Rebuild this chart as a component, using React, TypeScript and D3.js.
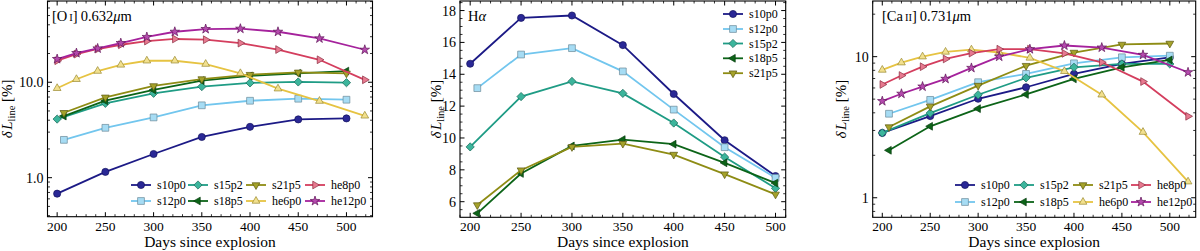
import React from 'react';
import * as d3 from 'd3';

// days since explosion
const daysA = [200, 250, 300, 350, 400, 450, 500];
const daysB = [207, 250, 300, 350, 400, 450, 500];
const daysHe = [200, 220, 242, 266, 293, 322, 354, 390, 429, 472, 519];

const models = ['s10p0', 's12p0', 's15p2', 's18p5', 's21p5', 'he6p0', 'he8p0', 'he12p0'];

// [O I] 0.632 micron
const oiS10 = [0.68, 1.15, 1.77, 2.67, 3.41, 4.08, 4.18];
const oiS12 = [2.49, 3.33, 4.28, 5.73, 6.4, 6.72, 6.56];
const oiS15 = [4.11, 6.01, 7.66, 9.0, 9.84, 10.07, 9.9];
const oiS18 = [4.42, 6.4, 8.3, 10.4, 11.65, 12.4, 13.1];
const oiS21 = [4.79, 6.95, 9.14, 10.8, 12.0, 12.7, 12.4];
const oiHe6 = [8.65, 10.75, 13.1, 15.2, 16.8, 16.8, 15.5, 12.4, 8.56, 6.35, 4.45];
const oiHe8 = [16.8, 19.7, 22.3, 24.7, 27.0, 28.4, 27.9, 25.7, 22.0, 17.2, 10.6];
const oiHe12 = [17.5, 20.2, 22.6, 25.7, 29.8, 33.8, 36.1, 36.4, 33.8, 28.8, 21.9];

// H alpha
const haS10 = [14.66, 17.54, 17.69, 15.83, 12.76, 9.86, 7.61];
const haS12 = [13.13, 15.24, 15.64, 14.18, 11.78, 9.42, 7.5];
const haS15 = [9.44, 12.6, 13.55, 12.8, 10.94, 8.8, 6.84];
const haS18 = [5.27, 7.77, 9.5, 9.9, 9.61, 8.44, 7.17];
const haS21 = [5.79, 7.98, 9.44, 9.65, 8.96, 7.73, 6.46];

// [Ca II] 0.731 micron
const caS10 = [2.88, 3.79, 5.03, 6.07, 7.55, 8.88, 9.9];
const caS12 = [3.94, 4.94, 6.59, 7.55, 8.97, 9.9, 10.16];
const caS15 = [2.88, 3.98, 5.37, 7.07, 8.41, 8.88, 8.88];
const caS18 = [2.17, 3.21, 4.28, 5.4, 6.96, 8.41, 9.48];
const caS21 = [3.17, 4.44, 6.24, 8.63, 10.7, 12.2, 12.4];
const caHe6 = [8.05, 9.07, 10.0, 10.8, 11.2, 10.7, 9.8, 7.88, 5.37, 2.92, 1.3];
const caHe8 = [6.35, 7.35, 8.49, 9.63, 10.6, 11.3, 11.3, 10.55, 9.12, 6.66, 3.78];
const caHe12 = [4.84, 5.46, 6.14, 6.96, 8.32, 10.0, 11.3, 12.0, 11.6, 10.3, 7.75];

const xTicks = [200, 250, 300, 350, 400, 450, 500];
const haTicks = [6, 8, 10, 12, 14, 16, 18];

const style: Record<string, { line: string; fill: string; edge: string; shape: string }> = {
  s10p0: { line: '#1c1a86', fill: '#2a2896', edge: '#14125e', shape: 'circle' },
  s12p0: { line: '#72c6ee', fill: '#a6dcf4', edge: '#6a8a9a', shape: 'square' },
  s15p2: { line: '#1f9c85', fill: '#3cb59c', edge: '#1a6a5a', shape: 'diamond' },
  s18p5: { line: '#0c6418', fill: '#0c6418', edge: '#083c10', shape: 'left' },
  s21p5: { line: '#8e8c14', fill: '#a5a22a', edge: '#5a5810', shape: 'down' },
  he6p0: { line: '#e6c342', fill: '#f2e08e', edge: '#9a8a30', shape: 'up' },
  he8p0: { line: '#d43e5e', fill: '#e77a90', edge: '#8a2a3e', shape: 'right' },
  he12p0: { line: '#a5229c', fill: '#b54aae', edge: '#5e1458', shape: 'star' },
};

const FONT = "'Liberation Serif', 'DejaVu Serif', serif";

function markerPath(shape: string) {
  const g = d3.symbol();
  if (shape === 'circle') return { d: g.type(d3.symbolCircle).size(40)()!, rot: 0 };
  if (shape === 'square') return { d: g.type(d3.symbolSquare).size(46)()!, rot: 0 };
  if (shape === 'diamond') return { d: g.type(d3.symbolSquare).size(34)()!, rot: 45 };
  if (shape === 'star') return { d: g.type(d3.symbolStar).size(28)()!, rot: 0 };
  const rot = shape === 'up' ? 0 : shape === 'down' ? 180 : shape === 'left' ? -90 : 90;
  return { d: g.type(d3.symbolTriangle).size(26)()!, rot };
}

function Marker({ x, y, name }: { x: number; y: number; name: string }) {
  const s = style[name];
  const m = markerPath(s.shape);
  return (
    <path
      d={m.d}
      transform={`translate(${x},${y}) rotate(${m.rot})`}
      fill={s.fill}
      stroke={s.edge}
      strokeWidth={0.7}
    />
  );
}

type Series = { name: string; days: number[]; vals: number[] };

type PanelCfg = {
  left: number;
  right: number;
  top: number;
  bottom: number;
  xDomain: [number, number];
  log: boolean;
  yDomain: [number, number];
  yTicks: number[];
  yFmt: (v: number) => string;
  series: Series[];
  title: React.ReactNode;
  titleX: number;
  ylabelX: number;
  legend: { cols: string[][]; xs: number[]; ys: number[] };
};

function Panel({ c }: { c: PanelCfg }) {
  const x = d3.scaleLinear().domain(c.xDomain).range([c.left, c.right]);
  const y = c.log
    ? d3.scaleLog().domain(c.yDomain).range([c.bottom, c.top])
    : d3.scaleLinear().domain(c.yDomain).range([c.bottom, c.top]);
  const line = d3
    .line<[number, number]>()
    .x((d) => x(d[0]))
    .y((d) => y(d[1]));

  const xMinor = d3.range(190, 530, 10).filter((d) => d >= c.xDomain[0] && d <= c.xDomain[1] && d % 50 !== 0);
  let yMinor: number[] = [];
  if (c.log) {
    for (let e = -1; e <= 2; e++)
      for (let k = 2; k <= 9; k++) {
        const v = k * Math.pow(10, e);
        if (v >= c.yDomain[0] && v <= c.yDomain[1]) yMinor.push(v);
      }
  } else {
    yMinor = d3.range(5, 19, 0.5).filter((v) => v >= c.yDomain[0] && v <= c.yDomain[1] && v % 2 !== 0);
  }
  const cy = (c.top + c.bottom) / 2;
  const cx = (c.left + c.right) / 2;

  return (
    <g fontFamily={FONT}>
      {c.series.map((s) => {
        const pts = s.days.map((d, i) => [d, s.vals[i]] as [number, number]);
        return (
          <g key={s.name}>
            <path d={line(pts)!} fill="none" stroke={style[s.name].line} strokeWidth={1.8} />
            {pts.map((p, i) => (
              <Marker key={i} x={x(p[0])} y={y(p[1])} name={s.name} />
            ))}
          </g>
        );
      })}
      <rect x={c.left} y={c.top} width={c.right - c.left} height={c.bottom - c.top} fill="none" stroke="#000" strokeWidth={1.1} />
      {xTicks.map((t) => (
        <g key={'xt' + t}>
          <line x1={x(t)} x2={x(t)} y1={c.bottom} y2={c.bottom - 4.5} stroke="#000" />
          <line x1={x(t)} x2={x(t)} y1={c.top} y2={c.top + 4.5} stroke="#000" />
          <text x={x(t)} y={230.5} textAnchor="middle" fontSize={13.5}>
            {t}
          </text>
        </g>
      ))}
      {xMinor.map((t) => (
        <g key={'xm' + t}>
          <line x1={x(t)} x2={x(t)} y1={c.bottom} y2={c.bottom - 2.5} stroke="#000" strokeWidth={0.8} />
          <line x1={x(t)} x2={x(t)} y1={c.top} y2={c.top + 2.5} stroke="#000" strokeWidth={0.8} />
        </g>
      ))}
      {c.yTicks.map((t) => (
        <g key={'yt' + t}>
          <line x1={c.left} x2={c.left + 4.5} y1={y(t)} y2={y(t)} stroke="#000" />
          <line x1={c.right} x2={c.right - 4.5} y1={y(t)} y2={y(t)} stroke="#000" />
          <text x={c.left - 4} y={y(t) + 5} textAnchor="end" fontSize={14}>
            {c.yFmt(t)}
          </text>
        </g>
      ))}
      {yMinor.map((t) => (
        <g key={'ym' + t}>
          <line x1={c.left} x2={c.left + 2.5} y1={y(t)} y2={y(t)} stroke="#000" strokeWidth={0.8} />
          <line x1={c.right} x2={c.right - 2.5} y1={y(t)} y2={y(t)} stroke="#000" strokeWidth={0.8} />
        </g>
      ))}
      <text x={cx} y={247} textAnchor="middle" fontSize={15.5}>
        Days since explosion
      </text>
      <text transform={`translate(${c.ylabelX},${cy}) rotate(-90)`} textAnchor="middle" fontSize={15}>
        <tspan fontStyle="italic">δ</tspan>
        <tspan fontStyle="italic" dx={1.5}>L</tspan>
        <tspan fontSize={10.5} dy={3}>line</tspan>
        <tspan dy={-3}>{' [%]'}</tspan>
      </text>
      <text x={c.titleX} y={21} fontSize={14.5}>
        {c.title}
      </text>
      {c.legend.cols.map((col, ci) =>
        col.map((name, ri) => {
          const mx = c.legend.xs[ci];
          const my = c.legend.ys[ri];
          return (
            <g key={name}>
              <line x1={mx - 10} x2={mx + 10} y1={my} y2={my} stroke={style[name].line} strokeWidth={1.8} />
              <Marker x={mx} y={my} name={name} />
              <text x={mx + 16} y={my + 4} fontSize={12}>
                {name}
              </text>
            </g>
          );
        })
      )}
    </g>
  );
}

const oiSeries: Series[] = [
  { name: 's10p0', days: daysA, vals: oiS10 },
  { name: 's12p0', days: daysB, vals: oiS12 },
  { name: 's15p2', days: daysA, vals: oiS15 },
  { name: 's18p5', days: daysB, vals: oiS18 },
  { name: 's21p5', days: daysB, vals: oiS21 },
  { name: 'he6p0', days: daysHe, vals: oiHe6 },
  { name: 'he8p0', days: daysHe, vals: oiHe8 },
  { name: 'he12p0', days: daysHe, vals: oiHe12 },
];
const haSeries: Series[] = [
  { name: 's10p0', days: daysA, vals: haS10 },
  { name: 's12p0', days: daysB, vals: haS12 },
  { name: 's15p2', days: daysA, vals: haS15 },
  { name: 's18p5', days: daysB, vals: haS18 },
  { name: 's21p5', days: daysB, vals: haS21 },
];
const caSeries: Series[] = [
  { name: 's10p0', days: daysA, vals: caS10 },
  { name: 's12p0', days: daysB, vals: caS12 },
  { name: 's15p2', days: daysA, vals: caS15 },
  { name: 's18p5', days: daysB, vals: caS18 },
  { name: 's21p5', days: daysB, vals: caS21 },
  { name: 'he6p0', days: daysHe, vals: caHe6 },
  { name: 'he8p0', days: daysHe, vals: caHe8 },
  { name: 'he12p0', days: daysHe, vals: caHe12 },
];

const legendCols = [models.slice(0, 2), models.slice(2, 4), models.slice(4, 6), models.slice(6, 8)];

const panels: PanelCfg[] = [
  {
    left: 47.5, right: 372.5, top: 1, bottom: 216.7,
    xDomain: [190, 527], log: true, yDomain: [0.39, 71], yTicks: [1, 10],
    yFmt: (v) => v.toFixed(1),
    series: oiSeries,
    title: (
      <>
        [O<tspan fontSize={10.5} dx={2}>I</tspan>]<tspan dx={3}>0.632</tspan>
        <tspan fontStyle="italic">μ</tspan>m
      </>
    ),
    titleX: 52,
    ylabelX: 12,
    legend: { cols: legendCols, xs: [141, 198, 256, 315], ys: [185, 201] },
  },
  {
    left: 460, right: 785.7, top: 1, bottom: 217.3,
    xDomain: [190, 510], log: false, yDomain: [5.02, 18.6], yTicks: haTicks,
    yFmt: (v) => String(v),
    series: haSeries,
    title: (
      <>
        H<tspan fontStyle="italic">α</tspan>
      </>
    ),
    titleX: 468,
    ylabelX: 441,
    legend: { cols: [models.slice(0, 5)], xs: [733], ys: [14, 29, 43.5, 58.3, 73.2] },
  },
  {
    left: 872.7, right: 1195.7, top: 1, bottom: 217.3,
    xDomain: [190, 527], log: true, yDomain: [0.727, 24.8], yTicks: [1, 10],
    yFmt: (v) => String(v),
    series: caSeries,
    title: (
      <>
        [Ca<tspan fontSize={10.5} dx={2}>II</tspan>]<tspan dx={3}>0.731</tspan>
        <tspan fontStyle="italic">μ</tspan>m
      </>
    ),
    titleX: 882,
    ylabelX: 846,
    legend: { cols: legendCols, xs: [965, 1024, 1083, 1141], ys: [185, 202] },
  },
];

export default function App() {
  return (
    <svg
      width={1200}
      height={251}
      style={{ position: 'absolute', left: 0, top: 0, background: '#fff' }}
    >
      {panels.map((p, i) => (
        <Panel key={i} c={p} />
      ))}
    </svg>
  );
}
